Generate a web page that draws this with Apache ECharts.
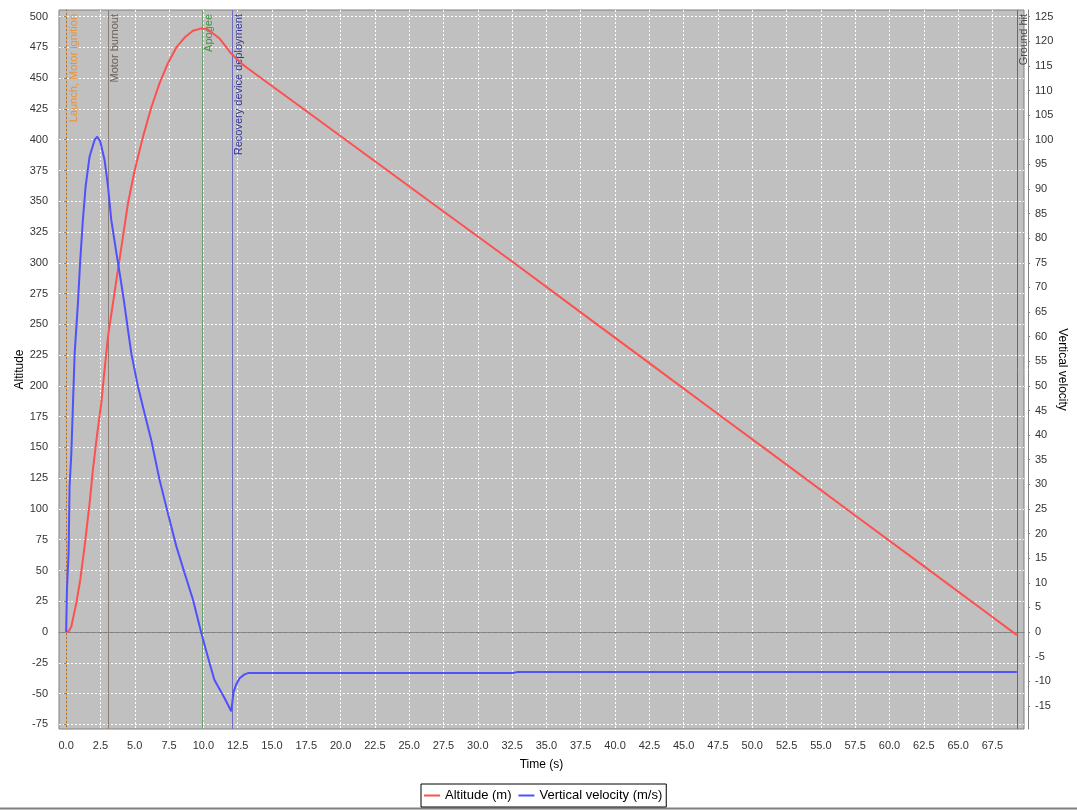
<!DOCTYPE html>
<html><head><meta charset="utf-8">
<script src="https://cdn.jsdelivr.net/npm/echarts@6/dist/echarts.min.js"></script>
<style>html,body{margin:0;padding:0;background:#fff}#c{width:1077px;height:810px}</style>
</head><body><div id="c"></div><script>
// ---- data ----
const altTime = [0, 0.2, 0.38, 0.74, 1.03, 1.35, 1.71, 1.95, 2.24, 2.56, 2.8, 3.05, 3.41, 3.77, 4.14, 4.5, 4.99, 5.59, 6.2, 6.81, 7.41, 8.03, 8.63, 9.24, 9.85, 10.33, 11.2, 12.03, 12.4, 12.76, 13.3, 14.1, 17.5, 22.5, 27.5, 32.5, 37.5, 42.5, 47.5, 52.5, 57.5, 62.5, 67.5, 69.28];
const altValues = [0, 0.8, 4.5, 23.5, 42.5, 70, 104.8, 131.8, 158.9, 186, 213, 240, 267, 294, 321, 348, 375, 402, 426, 446, 462, 475, 483, 488.5, 490.5, 489.5, 482, 470, 466, 462, 457.5, 451, 423.3, 382.5, 341.7, 301, 259.7, 218.5, 177.2, 136, 94.7, 53.5, 12.2, -2.5];
const velTime = [0, 0.06, 0.18, 0.25, 0.38, 0.5, 0.62, 0.86, 1.03, 1.22, 1.42, 1.71, 2.08, 2.27, 2.49, 2.8, 3.05, 3.29, 3.66, 3.9, 4.2, 4.5, 4.75, 5.23, 5.59, 6.2, 6.81, 7.41, 8.03, 8.63, 9.24, 9.85, 10.45, 10.8, 11.54, 12.03, 12.2, 12.4, 12.64, 13.0, 13.3, 32.6, 32.9, 69.28];
const velValues = [0, 8.6, 16, 29.6, 36.3, 46.5, 56.6, 66.8, 75.6, 83.7, 90.5, 96.6, 100.0, 100.6, 99.6, 95.9, 90.5, 83.7, 77, 72.9, 67.5, 61.5, 56.6, 49.9, 45.8, 39.0, 30.9, 24.2, 17.4, 12.0, 6.6, -0.2, -6.3, -9.7, -13.4, -16.1, -12.2, -10.6, -9.4, -8.6, -8.3, -8.3, -8.1, -8.1];
const eventNames = ['Launch, Motor ignition', 'Motor burnout', 'Apogee', 'Recovery device deployment', 'Ground hit'];
const eventTimes = [0, 3.04, 9.89, 12.08, 69.28];
const xTicks = [];
for (let i = 0; i <= 27; i++) xTicks.push(i * 2.5);
const leftTicks = [];
for (let v = -75; v <= 500; v += 25) leftTicks.push(v);
const rightTicks = [];
for (let v = -15; v <= 125; v += 5) rightTicks.push(v);
const seriesNames = ['Altitude (m)', 'Vertical velocity (m/s)'];

// ---- styles ----
const FONT = 'Liberation Sans, Arial, sans-serif';
const eventLineColors = ['#f0a048', '#8c7c74', '#6ca06c', '#6c6cc0', '#6a6a6a'];
const eventTextColors = ['#e8923a', '#6e6058', '#3c963c', '#3434a0', '#4a4a4a'];
const eventLineTypes = [[2, 2], 'solid', 'solid', 'solid', 'solid'];

const altData = altTime.map((t, i) => [t, altValues[i]]);
const velData = velTime.map((t, i) => [t, velValues[i]]);

const eventMarks = eventTimes.map((t, i) => ({
  xAxis: t,
  lineStyle: { color: eventLineColors[i], type: eventLineTypes[i], width: 1 },
  label: {
    show: true, formatter: eventNames[i], position: 'insideEndBottom',
    color: eventTextColors[i], fontSize: 11, fontFamily: FONT, distance: [4, 2]
  }
}));

const chart = echarts.init(document.getElementById('c'), null, { renderer: 'canvas' });
chart.setOption({
  animation: false,
  backgroundColor: '#ffffff',
  textStyle: { fontFamily: FONT },
  grid: {
    left: 59, right: 53, top: 10, bottom: 81, outerBoundsMode: 'none', containLabel: false,
    show: true, backgroundColor: '#c0c0c0', borderColor: '#808080', borderWidth: 1
  },
  legend: {
    data: seriesNames,
    left: 421, bottom: 3,
    borderColor: '#000', borderWidth: 1, padding: [5, 4, 5, 3],
    itemGap: 7, itemWidth: 16, itemHeight: 2, icon: 'rect',
    textStyle: { fontSize: 13, fontFamily: FONT, color: '#000' }
  },
  xAxis: {
    type: 'value', min: -0.52, max: 69.8, interval: 2.5, offset: 5,
    name: 'Time (s)', nameLocation: 'middle', nameGap: 25, nameMoveOverlap: false,
    nameTextStyle: { fontSize: 12, fontFamily: FONT, color: '#000' },
    axisLine: { show: true, lineStyle: { color: '#808080', width: 1 } },
    axisTick: { show: true, length: 2, customValues: xTicks, lineStyle: { color: '#808080' } },
    axisLabel: { customValues: xTicks, formatter: v => v.toFixed(1), fontSize: 11, color: '#333', margin: 6, fontFamily: FONT },
    splitLine: { show: true, lineStyle: { color: '#ffffff', type: [2, 2], width: 1 } }
  },
  yAxis: [
    {
      type: 'value', min: -78.8, max: 505.4, interval: 25, offset: 4, position: 'left',
      name: 'Altitude', nameLocation: 'middle', nameGap: 29, nameRotate: 90, nameMoveOverlap: false,
      nameTextStyle: { fontSize: 12, fontFamily: FONT, color: '#000' },
      axisLine: { show: true, lineStyle: { color: '#808080', width: 1 } },
      axisTick: { show: true, length: 2, customValues: leftTicks, lineStyle: { color: '#808080' } },
      axisLabel: { customValues: leftTicks, fontSize: 11, color: '#333', margin: 7, fontFamily: FONT },
      splitLine: { show: true, lineStyle: { color: '#ffffff', type: [2, 2], width: 1 } }
    },
    {
      type: 'value', min: -19.7, max: 126.35, offset: 4, position: 'right',
      name: 'Vertical velocity', nameLocation: 'middle', nameGap: 28, nameRotate: -90, nameMoveOverlap: false,
      nameTextStyle: { fontSize: 12, fontFamily: FONT, color: '#000' },
      axisLine: { show: true, lineStyle: { color: '#808080', width: 1 } },
      axisTick: { show: true, length: 2, customValues: rightTicks, lineStyle: { color: '#808080' } },
      axisLabel: { customValues: rightTicks, fontSize: 11, color: '#333', margin: 7, fontFamily: FONT },
      splitLine: { show: false }
    }
  ],
  series: [
    {
      name: seriesNames[0], type: 'line', yAxisIndex: 0, data: altData,
      symbol: 'none', lineStyle: { color: '#ff5050', width: 2 }, itemStyle: { color: '#ff5050' },
      z: 10,
      markLine: { silent: true, symbol: ['none', 'none'], animation: false, data: eventMarks, z: 3 }
    },
    {
      name: seriesNames[1], type: 'line', yAxisIndex: 1, data: velData,
      symbol: 'none', lineStyle: { color: '#5050ff', width: 2 }, itemStyle: { color: '#5050ff' },
      z: 10,
      markLine: { silent: true, symbol: ['none', 'none'], animation: false, label: { show: false },
        data: [{ yAxis: 0, lineStyle: { color: '#8a8a8a', type: [3, 3], width: 1 } }], z: 2 }
    }
  ],
  graphic: [{
    type: 'line', shape: { x1: 0, y1: 808.5, x2: 1077, y2: 808.5 },
    style: { stroke: '#808080', lineWidth: 2 }, silent: true
  }]
});
</script></body></html>
